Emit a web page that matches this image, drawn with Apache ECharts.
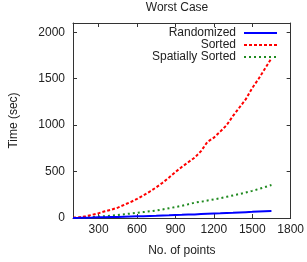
<!DOCTYPE html>
<html><head><meta charset="utf-8">
<script src="https://cdn.jsdelivr.net/npm/echarts@6/dist/echarts.min.js"></script>
<style>html,body{margin:0;padding:0;background:#fff}#c{width:307px;height:262px}</style>
</head><body><div id="c"></div>
<script>
const xPoints = [100,150,200,250,300,350,400,450,500,550,600,650,700,750,800,850,900,950,1000,1050,1100,1150,1200,1250,1300,1350,1400,1450,1500,1550,1600,1650];
const randomized = [1,2,4,5,7,8,10,12,14,16,18,20,22,24,27,29,32,34,37,39,42,45,48,50,53,56,60,63,66,70,73,76];
const sorted = [2,8,18,35,52,72,90,112,142,172,205,245,285,330,380,435,495,550,600,650,720,820,865,930,1000,1100,1190,1280,1400,1500,1610,1720];
const spatial = [1,3,6,10,15,20,26,32,40,48,56,64,72,80,92,105,118,132,148,165,175,188,200,213,228,243,258,275,292,312,333,355];
const xTicks = [300,600,900,1200,1500,1800];
const yTicks = [0,500,1000,1500,2000];
const seriesNames = ['Randomized','Sorted','Spatially Sorted'];

const pair = arr => xPoints.map((x,i)=>[x,arr[i]]);
const font = 'Liberation Sans, Arial, sans-serif';
const axisCol = '#333';
const fmt = v => String(v);
function xAx(pos, show){
  return {type:'value', position:pos, min:100, max:1800,
    axisLine:{show:true, onZero:false, lineStyle:{color:axisCol,width:1}},
    axisTick:{show:true, inside:true, length:4, customValues:xTicks, lineStyle:{color:axisCol}},
    axisLabel:{show:show, customValues:xTicks, formatter:fmt, fontSize:12, color:'#222', fontFamily:font, margin:6},
    splitLine:{show:false},
    name: show?'No. of points':'', nameLocation:'middle', nameGap:27,
    nameTextStyle:{fontSize:12, color:'#222', fontFamily:font}};
}
function yAx(pos, show){
  return {type:'value', position:pos, min:0, max:2100,
    axisLine:{show:true, onZero:false, lineStyle:{color:axisCol,width:1}},
    axisTick:{show:true, inside:true, length:4, customValues:yTicks, lineStyle:{color:axisCol}},
    axisLabel:{show:show, customValues:yTicks, formatter:fmt, fontSize:12, color:'#222', fontFamily:font, margin:8},
    splitLine:{show:false},
    name: show?'Time (sec)':'', nameLocation:'middle', nameGap:53, nameRotate:90,
    nameTextStyle:{fontSize:12, color:'#222', fontFamily:font}};
}
const colors = ['#0000ff','#ff0000','#1f8a1f'];
const styles = [
  {color:colors[0], width:2, type:'solid'},
  {color:colors[1], width:2, type:[3,2]},
  {color:colors[2], width:2, type:[2,3]}
];
const datas = [randomized, sorted, spatial];
const legendTops = [27,39,51];
const chart = echarts.init(document.getElementById('c'), null, {renderer:'canvas'});
chart.setOption({
  animation:false,
  title:{text:'Worst Case', left:177, textAlign:'center', top:2, padding:0,
    textStyle:{fontSize:12, fontWeight:'normal', color:'#222', fontFamily:font}},
  grid:{left:62, right:15, top:23, bottom:38},
  xAxis:[xAx('bottom',true), xAx('top',false)],
  yAxis:[yAx('left',true), yAx('right',false)],
  legend: seriesNames.map((n,i)=>({
    data:[n], orient:'vertical', align:'right', right:29, top:legendTops[i],
    itemWidth:33, itemHeight:10, padding:0,
    itemStyle:{opacity:0},
    textStyle:{fontSize:12, color:'#222', fontFamily:font, padding:[0,3,0,0]}
  })),
  series: seriesNames.map((n,i)=>({
    name:n, type:'line', data:pair(datas[i]), symbol:'none', xAxisIndex:0, yAxisIndex:0,
    lineStyle:styles[i], itemStyle:{color:colors[i]}, z: 3-i
  }))
});
</script></body></html>
